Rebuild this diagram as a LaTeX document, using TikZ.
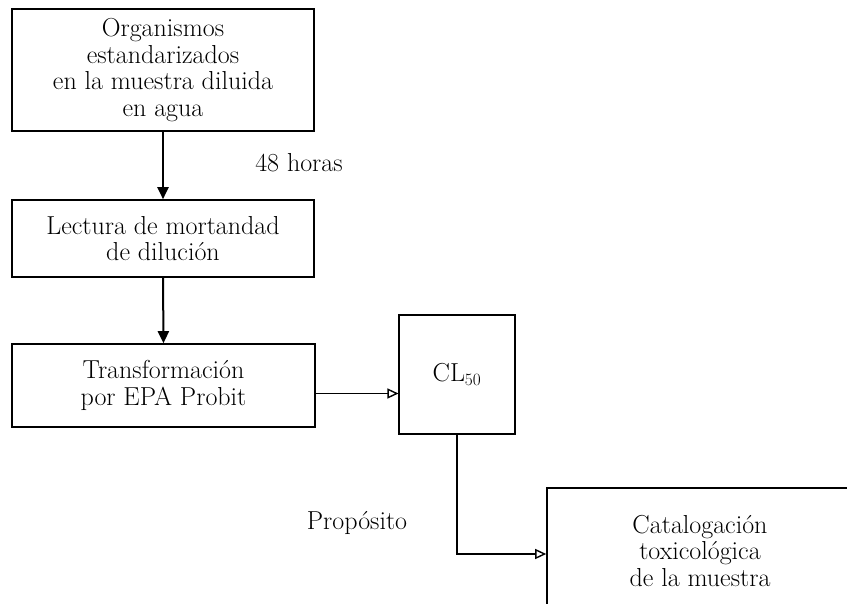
\documentclass[tikz,border=0pt]{standalone}
\usepackage{tikz}
\usetikzlibrary{arrows.meta}
\tikzset{caja/.style={draw, line width=1.6pt, align=center, inner sep=0pt,
   font=\fontsize{26}{26.8}\selectfont},
 cajafina/.style={caja, line width=1.1pt},
 etiqueta/.style={font=\fontsize{26}{26.8}\selectfont},
 flecha/.style={line width=2pt, -{Triangle[length=12pt,width=11pt]}},
 flechaabierta/.style={line width=1.4pt, -{Triangle[open,length=11pt,width=10pt]}},
 }

\begin{document}
\begin{tikzpicture}[x=1pt, y=-1pt]
        \useasboundingbox (0,0) rectangle (847,604);

        \node[caja, minimum width=302pt, minimum height=122pt] (org) at (163,70)
            {Organismos\\estandarizados\\en la muestra diluida\\en agua};
        \node[caja, minimum width=302pt, minimum height=77pt] (lect) at (163,238.5)
            {Lectura de mortandad\\de diluci\'on};
        \node[caja, minimum width=303pt, minimum height=83pt] (trans) at (163.5,385.5)
            {Transformaci\'on\\por EPA Probit};
        \node[cajafina, minimum width=116pt, minimum height=119pt] (cl) at (457,374.5)
            {CL$_{50}$};
        \node[caja, minimum width=306pt, minimum height=126pt] (cat) at (700,551)
            {Catalogaci\'on\\toxicol\'ogica\\de la muestra};

        \node[etiqueta] (horas) at (299,163) {48 horas};
        \node[etiqueta] (prop) at (357,523) {Prop\'osito};

        \foreach \a/\b in {org/lect, lect/trans} {
            \draw[flecha] (\a.south) -- (\b.north);
        }
        \draw[flechaabierta] ([yshift=-8pt]trans.east) -- ([yshift=-8pt]trans.east -| cl.west);
        \draw[flechaabierta] (cl.south) |- ([yshift=-3pt]cat.west);
    \end{tikzpicture}
\end{document}
